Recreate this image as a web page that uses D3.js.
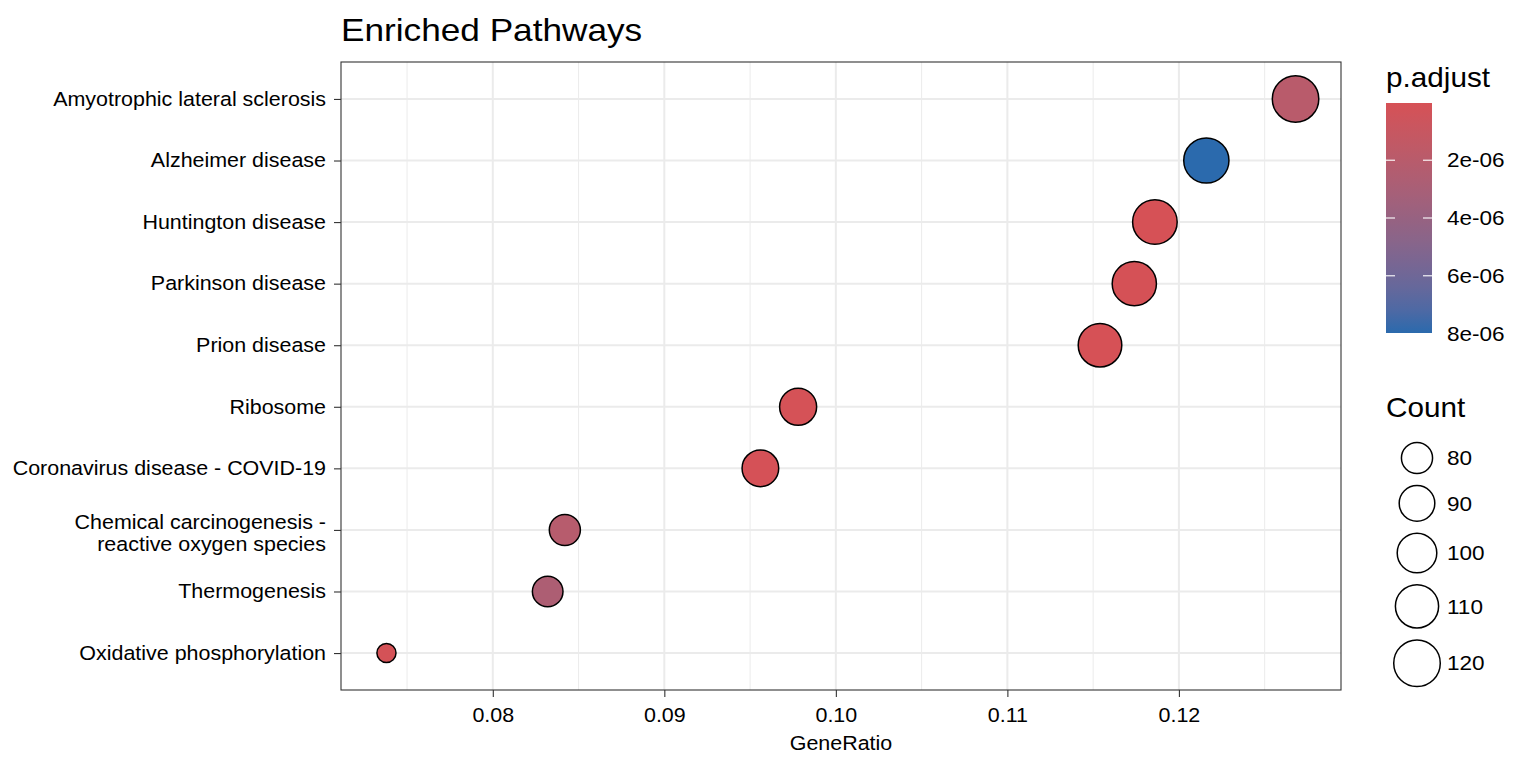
<!DOCTYPE html>
<html>
<head>
<meta charset="utf-8">
<script src="https://cdn.jsdelivr.net/npm/d3@7"></script>
<style>
  body { margin: 0; background: #fff; }
  svg { display: block; font-family: "Liberation Sans", Arial, Helvetica, sans-serif; }
</style>
</head>
<body>
<svg id="chart" width="1536" height="768"></svg>
<script>
// pathways, top row first
const pathways = [
  'Amyotrophic lateral sclerosis',
  'Alzheimer disease',
  'Huntington disease',
  'Parkinson disease',
  'Prion disease',
  'Ribosome',
  'Coronavirus disease - COVID-19',
  'Chemical carcinogenesis - reactive oxygen species',
  'Thermogenesis',
  'Oxidative phosphorylation'
]
const geneRatio = [0.1268, 0.1216, 0.1186, 0.1174, 0.1154, 0.0978, 0.0956, 0.0842, 0.0832, 0.0738]
const counts = [123, 119, 117, 116, 114, 96, 95, 82, 81, 61]
const pAdjust = [1.95e-6, 7.98e-6, 4.1e-8, 6.2e-8, 2.0e-8, 1.1e-7, 9.0e-8, 2.1e-6, 2.7e-6, 1.5e-7]

const xTicks = [0.08, 0.09, 0.10, 0.11, 0.12]
const xMinorTicks = [0.075, 0.085, 0.095, 0.105, 0.115, 0.125]
const pTicks = [2e-6, 4e-6, 6e-6, 8e-6]
const countBreaks = [80, 90, 100, 110, 120]

// wrapped labels
const labelLines = {
  'Chemical carcinogenesis - reactive oxygen species': ['Chemical carcinogenesis -', 'reactive oxygen species']
}

const rows = pathways.map((name, i) => ({
  name, ratio: geneRatio[i], count: counts[i], p: pAdjust[i]
}))

const svg = d3.select('#chart')
const panel = { left: 341, right: 1341, top: 62, bottom: 690 }
const STRETCH = 1.1 // reference font runs a bit wider than Liberation Sans

// widen a text element around its anchor x
const widen = (sel) => sel.each(function () {
  const ax = +d3.select(this).attr('x') || 0
  d3.select(this).attr('transform', `translate(${ax},0) scale(${STRETCH},1) translate(${-ax},0)`)
})

// ggplot style 5% expansion
const xExt = d3.extent(geneRatio)
const xPad = (xExt[1] - xExt[0]) * 0.05
const x = d3.scaleLinear()
  .domain([xExt[0] - xPad, xExt[1] + xPad])
  .range([panel.left, panel.right])

const y = d3.scalePoint()
  .domain(pathways)
  .range([panel.top, panel.bottom])
  .padding(0.6)

const lowColor = '#d65156'
const highColor = '#2b6aad'
const pExt = [d3.min(pAdjust), d3.max(pAdjust)]
const color = d3.scaleLinear()
  .domain(pExt)
  .range([lowColor, highColor])
  .interpolate(d3.interpolateLab)

// area proportional size
const rMin = 10.3, rMax = 24
const area = d3.scaleLinear()
  .domain(d3.extent(counts))
  .range([rMin * rMin, rMax * rMax])
const radius = (c) => Math.sqrt(area(c))

// grid
const grid = svg.append('g')
grid.selectAll('line.minor')
  .data(xMinorTicks)
  .join('line')
  .attr('x1', (d) => x(d)).attr('x2', (d) => x(d))
  .attr('y1', panel.top).attr('y2', panel.bottom)
  .attr('stroke', '#ebebeb').attr('stroke-width', 1)
grid.selectAll('line.majorx')
  .data(xTicks)
  .join('line')
  .attr('x1', (d) => x(d)).attr('x2', (d) => x(d))
  .attr('y1', panel.top).attr('y2', panel.bottom)
  .attr('stroke', '#ebebeb').attr('stroke-width', 2)
grid.selectAll('line.majory')
  .data(pathways)
  .join('line')
  .attr('x1', panel.left).attr('x2', panel.right)
  .attr('y1', (d) => y(d)).attr('y2', (d) => y(d))
  .attr('stroke', '#ebebeb').attr('stroke-width', 2)

// points
svg.append('g')
  .selectAll('circle')
  .data(rows)
  .join('circle')
  .attr('cx', (d) => x(d.ratio))
  .attr('cy', (d) => y(d.name))
  .attr('r', (d) => radius(d.count) - 0.75)
  .attr('fill', (d) => color(d.p))
  .attr('stroke', '#000')
  .attr('stroke-width', 1.5)

// border
svg.append('rect')
  .attr('x', panel.left).attr('y', panel.top)
  .attr('width', panel.right - panel.left)
  .attr('height', panel.bottom - panel.top)
  .attr('fill', 'none')
  .attr('stroke', '#333').attr('stroke-width', 1.1)

// x axis
const xAxis = svg.append('g')
  .attr('transform', `translate(0,${panel.bottom})`)
  .call(d3.axisBottom(x).tickValues(xTicks).tickSize(7).tickPadding(11).tickFormat(d3.format('.2f')))
xAxis.select('.domain').remove()
xAxis.selectAll('line').attr('stroke', '#333').attr('stroke-width', 1.1)
xAxis.selectAll('text')
  .attr('font-size', 19.5).attr('fill', '#000').attr('font-family', null)
  .call(widen)

svg.append('text')
  .attr('x', (panel.left + panel.right) / 2)
  .attr('y', 750)
  .attr('text-anchor', 'middle')
  .attr('font-size', 19.5)
  .attr('fill', '#000')
  .text('GeneRatio')
  .call(widen)

// y axis
const yAxis = svg.append('g')
  .attr('transform', `translate(${panel.left},0)`)
  .call(d3.axisLeft(y).tickSize(7).tickPadding(8))
yAxis.select('.domain').remove()
yAxis.selectAll('line').attr('stroke', '#333').attr('stroke-width', 1.1)
yAxis.selectAll('text')
  .attr('font-size', 19.5).attr('fill', '#000').attr('font-family', null)
  .each(function (d) {
    const lines = labelLines[d]
    if (!lines) return
    const t = d3.select(this).text(null).attr('dy', null)
    lines.forEach((ln, i) => {
      t.append('tspan')
        .attr('x', -15)
        .attr('dy', i === 0 ? '-0.08em' : '1.15em')
        .text(ln)
    })
  })
  .call(widen)

// title
svg.append('text')
  .attr('x', panel.left)
  .attr('y', 41)
  .attr('font-size', 32)
  .attr('fill', '#000')
  .text('Enriched Pathways')
  .call(widen)

// colour bar legend
const bar = { x: 1386, y: 103, w: 46, h: 230 }
svg.append('text')
  .attr('x', bar.x).attr('y', 87)
  .attr('font-size', 27).attr('fill', '#000')
  .text('p.adjust')
  .call(widen)

const grad = svg.append('defs').append('linearGradient')
  .attr('id', 'pgrad')
  .attr('x1', 0).attr('y1', 0).attr('x2', 0).attr('y2', 1)
d3.range(0, 1.0001, 0.1).forEach((t) => {
  grad.append('stop')
    .attr('offset', t)
    .attr('stop-color', color(pExt[0] + t * (pExt[1] - pExt[0])))
})
svg.append('rect')
  .attr('x', bar.x).attr('y', bar.y)
  .attr('width', bar.w).attr('height', bar.h)
  .attr('fill', 'url(#pgrad)')

const barY = d3.scaleLinear().domain(pExt).range([bar.y, bar.y + bar.h])
const barTicks = svg.append('g')
pTicks.forEach((v) => {
  const ty = barY(v)
  barTicks.append('line')
    .attr('x1', bar.x).attr('x2', bar.x + 9)
    .attr('y1', ty).attr('y2', ty)
    .attr('stroke', '#fff').attr('stroke-width', 1.1)
  barTicks.append('line')
    .attr('x1', bar.x + bar.w - 9).attr('x2', bar.x + bar.w)
    .attr('y1', ty).attr('y2', ty)
    .attr('stroke', '#fff').attr('stroke-width', 1.1)
  barTicks.append('text')
    .attr('x', 1447).attr('y', ty)
    .attr('dy', '0.35em')
    .attr('font-size', 20.5).attr('fill', '#000')
    .text(d3.format('.0e')(v).replace('e-', 'e-0'))
    .call(widen)
})

// size legend
svg.append('text')
  .attr('x', bar.x).attr('y', 417)
  .attr('font-size', 27).attr('fill', '#000')
  .text('Count')
  .call(widen)

let cy = 458
const sizeKeys = countBreaks.map((c, i) => {
  if (i > 0) cy += radius(countBreaks[i - 1]) + radius(c) + 11.5
  return { c, cy }
})
const sizeLegend = svg.append('g')
sizeLegend.selectAll('circle')
  .data(sizeKeys)
  .join('circle')
  .attr('cx', 1417)
  .attr('cy', (d) => d.cy)
  .attr('r', (d) => radius(d.c) - 0.25)
  .attr('fill', 'none')
  .attr('stroke', '#000')
  .attr('stroke-width', 1.5)
sizeLegend.selectAll('text')
  .data(sizeKeys)
  .join('text')
  .attr('x', 1447)
  .attr('y', (d) => d.cy)
  .attr('dy', '0.35em')
  .attr('font-size', 20.5)
  .attr('fill', '#000')
  .text((d) => d.c)
  .call(widen)
</script>
</body>
</html>
